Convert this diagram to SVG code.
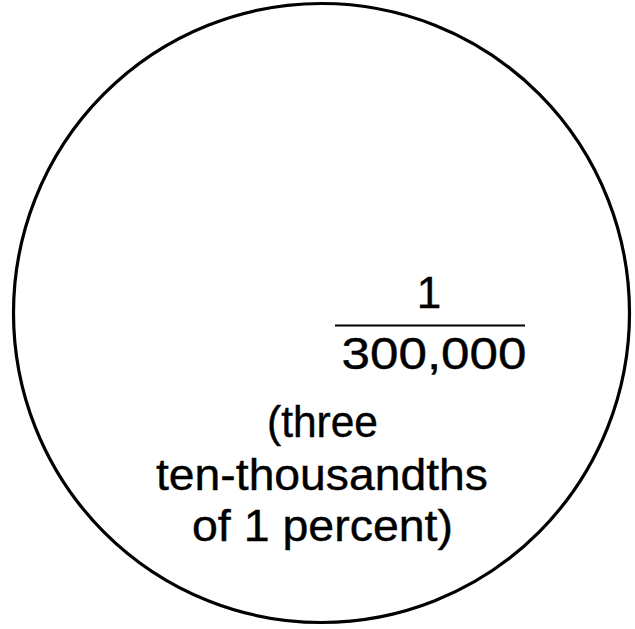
<svg xmlns="http://www.w3.org/2000/svg" width="635" height="629" viewBox="0 0 635 629">
<style>
.t{font-family:"Liberation Sans",Arial,sans-serif;font-size:44px;fill:#000;stroke:#000;stroke-width:0.4;text-anchor:middle}
</style>
<rect width="635" height="629" fill="#fff"/>
<g id="circle">
<ellipse cx="321.5" cy="313" rx="308" ry="309.5" fill="none" stroke="#000" stroke-width="3.2"/>
</g>
<g id="fraction">
<text class="t" x="429" y="308">1</text>
<line x1="335" y1="325.5" x2="525" y2="325.5" stroke="#000" stroke-width="1.8"/>
<text class="t" x="434" y="369" textLength="185" lengthAdjust="spacingAndGlyphs">300,000</text>
</g>
<g id="caption">
<text class="t" x="322.5" y="437" textLength="111" lengthAdjust="spacingAndGlyphs">(three</text>
<text class="t" x="322" y="490" textLength="332" lengthAdjust="spacingAndGlyphs">ten-thousandths</text>
<text class="t" x="322.5" y="541" textLength="261" lengthAdjust="spacingAndGlyphs">of  1  percent)</text>
</g>
</svg>
